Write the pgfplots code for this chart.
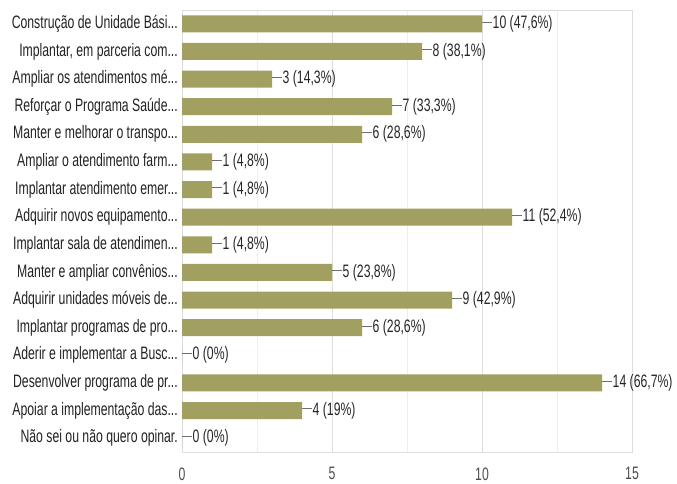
\documentclass[border=0pt]{standalone}
\usepackage{fontspec}
\setmainfont[FakeStretch=0.68]{Liberation Sans}
\usepackage{pgfplots}
\pgfplotsset{compat=1.18}
\definecolor{barc}{RGB}{161,160,96}
\definecolor{txt}{RGB}{34,34,34}
\definecolor{gridc}{RGB}{221,221,221}
\definecolor{minorc}{RGB}{238,238,238}
\definecolor{leader}{RGB}{110,110,110}
\def\dd{...}
\begin{document}
\begin{tikzpicture}
\useasboundingbox (0,0) rectangle (677pt,484pt);
\begin{axis}[
  at={(182pt,32pt)}, anchor=south west,
  scale only axis, width=450pt, height=442pt,
  xmin=0, xmax=15, ymin=-0.5, ymax=15.5,
  y dir=reverse,
  xbar, bar width=17pt,
  xtick={0,5,10,15},
  minor x tick num=1,
  xmajorgrids, xminorgrids,
  major grid style={gridc, line width=0.6pt},
  minor grid style={minorc, line width=0.6pt},
  extra x ticks={0}, extra x tick labels={},
  extra x tick style={grid style={black!75, line width=0.9pt}},
  major tick length=0pt, minor tick length=0pt,
  axis line style={gridc, line width=0.6pt},
  ytick={0,1,2,3,4,5,6,7,8,9,10,11,12,13,14,15},
  yticklabels={{Construção de Unidade Bási\dd},{Implantar, em parceria com\dd},{Ampliar os atendimentos mé\dd},{Reforçar o Programa Saúde\dd},{Manter e melhorar o transpo\dd},{Ampliar o atendimento farm\dd},{Implantar atendimento emer\dd},{Adquirir novos equipamento\dd},{Implantar sala de atendimen\dd},{Manter e ampliar convênios\dd},{Adquirir unidades móveis de\dd},{Implantar programas de pro\dd},{Aderir e implementar a Busc\dd},{Desenvolver programa de pr\dd},{Apoiar a implementação das\dd},{Não sei ou não quero opinar.}},
  yticklabel style={font=\fontsize{18}{20}\selectfont, text=txt, inner xsep=4pt},
  xticklabel style={font=\fontsize{18}{20}\selectfont, text=black!70, yshift=-12pt},
  /pgf/number format/assume math mode=true,
  point meta=explicit symbolic,
  nodes near coords={\textcolor{leader}{\rule[0.33em]{10pt}{0.8pt}}\hspace{0.5pt}\pgfplotspointmeta},
  every node near coord/.append style={anchor=west, inner sep=0pt, font=\fontsize{18}{20}\selectfont, text=black!85},
]
\addplot[fill=barc, draw=none] coordinates {
(10,0) [10 (47,6\%)]
(8,1) [8 (38,1\%)]
(3,2) [3 (14,3\%)]
(7,3) [7 (33,3\%)]
(6,4) [6 (28,6\%)]
(1,5) [1 (4,8\%)]
(1,6) [1 (4,8\%)]
(11,7) [11 (52,4\%)]
(1,8) [1 (4,8\%)]
(5,9) [5 (23,8\%)]
(9,10) [9 (42,9\%)]
(6,11) [6 (28,6\%)]
(0,12) [0 (0\%)]
(14,13) [14 (66,7\%)]
(4,14) [4 (19\%)]
(0,15) [0 (0\%)]
};
\end{axis}
\end{tikzpicture}
\end{document}
